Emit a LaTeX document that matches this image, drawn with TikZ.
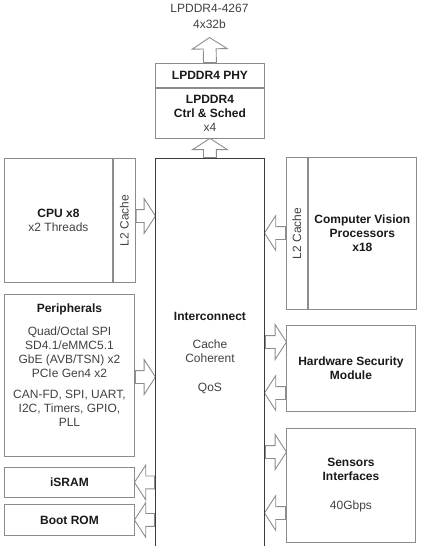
\documentclass[tikz,border=0pt]{standalone}
\usepackage{fontspec}
\usepackage{graphicx}
\setmainfont{Liberation Sans}
\usetikzlibrary{positioning,calc,shapes.arrows,backgrounds}
\definecolor{boxgray}{RGB}{140,140,140}
\definecolor{icgray}{RGB}{60,60,60}
\definecolor{txtdark}{RGB}{25,25,25}
\definecolor{txtgray}{RGB}{65,65,65}
\newcommand{\hd}[1]{\textcolor{txtdark}{\bfseries #1}}

\begin{document}
\begin{tikzpicture}[x=1pt, y=-1pt,
  font=\fontsize{12}{14}\selectfont,
  box/.style={draw=boxgray, line width=0.9pt, inner sep=0pt, align=center, text=txtgray},
  fatnode/.style={single arrow, draw=boxgray, line width=0.9pt, inner xsep=0pt, inner ysep=6pt,
    single arrow head extend=11pt, single arrow tip angle=114},
  fat/.style={to path={let \p1=(\tikztostart), \p2=(\tikztotarget),
    \n1={veclen(\x2-\x1,\y2-\y1)}, \n2={atan2(\y2-\y1,\x2-\x1)} in
    node[fatnode, minimum height=\n1, rotate=\n2, anchor=tail] at (\p1) {}}}]
\useasboundingbox (0,0) rectangle (421,546);

% Memory controller on top
\node[align=center, text=txtgray] (mem) at (209.5,16) {LPDDR4-4267\\[2pt]4x32b};
\coordinate (memtip) at (209.5,38);
\node[box, minimum width=109pt, minimum height=24pt, anchor=north west] (phy) at (155,63) {\hd{LPDDR4 PHY}};
\node[box, minimum width=109pt, minimum height=50pt, below=0pt of phy] (ctrl) {\hd{LPDDR4}\\\hd{Ctrl \& Sched}\\x4};

% Interconnect
\node[draw=icgray, line width=0.9pt, minimum width=109pt, minimum height=390pt, anchor=north west,
  align=center, text=txtgray] (ic) at (155,158)
  {\hd{Interconnect}\\[14pt]Cache\\Coherent\\[15pt]QoS};

% Left column
\node[box, minimum width=108pt, minimum height=124pt, anchor=north west] (cpu) at (4,158) {\hd{CPU x8}\\x2 Threads};
\node[box, minimum width=22pt, minimum height=124pt, right=0pt of cpu] (cl2) {\rotatebox{90}{L2 Cache}};
\node[box, minimum width=130pt, minimum height=162pt, anchor=north west] (periph) at (4,294) {};
\node[align=center, text=txtgray, anchor=north] (periphtxt) at ($(periph.north)+(0,6)$)
  {\hd{Peripherals}\\[9pt]Quad/Octal SPI\\SD4.1/eMMC5.1\\GbE (AVB/TSN) x2\\PCIe Gen4 x2\\[7pt]CAN-FD, SPI, UART,\\I2C, Timers, GPIO,\\PLL};
\node[box, minimum width=130pt, minimum height=30pt, anchor=north west] (isram) at (4,467) {\hd{iSRAM}};
\node[box, minimum width=130pt, minimum height=31pt, anchor=north west] (boot) at (4,504) {\hd{Boot ROM}};

% Right column
\node[box, minimum width=21pt, minimum height=152pt, anchor=north west] (vl2) at (286,157) {\rotatebox{90}{L2 Cache}};
\node[box, minimum width=108pt, minimum height=152pt, right=0pt of vl2] (cv) {\hd{Computer Vision}\\\hd{Processors}\\\hd{x18}};
\node[box, minimum width=129pt, minimum height=86pt, anchor=north west] (hsm) at (286,325) {\hd{Hardware Security}\\\hd{Module}};
\node[box, minimum width=129pt, minimum height=114pt, anchor=north west] (sens) at (286,428) {\hd{Sensors}\\\hd{Interfaces}\\[15pt]40Gbps};

% Fat arrows
\begin{scope}[on background layer]
\draw (phy.north) to[fat] (memtip);
\draw (ic.north) to[fat] (ctrl.south);
\draw (cl2.east |- 0,216) to[fat] (ic.west |- 0,216);
\draw (periph.east |- 0,377) to[fat] (ic.west |- 0,377);
\draw (ic.west |- isram.east) to[fat] (isram.east);
\draw (ic.west |- boot.east) to[fat] (boot.east);
\draw (vl2.west |- 0,233) to[fat] (ic.east |- 0,233);
\draw (ic.east |- 0,342) to[fat] (hsm.west |- 0,342);
\draw (hsm.west |- 0,393) to[fat] (ic.east |- 0,393);
\draw (ic.east |- 0,452) to[fat] (sens.west |- 0,452);
\draw (sens.west |- 0,513) to[fat] (ic.east |- 0,513);
\end{scope}
\end{tikzpicture}
\end{document}
